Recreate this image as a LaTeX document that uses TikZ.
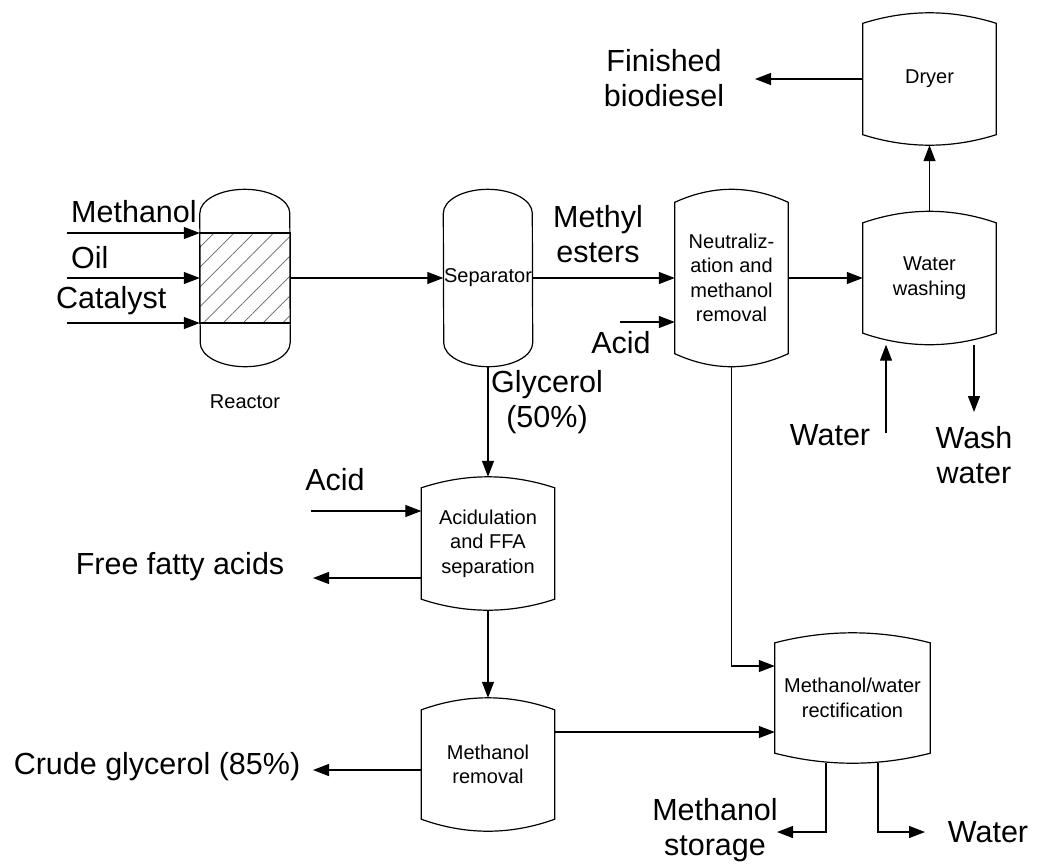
\documentclass[tikz,border=0pt]{standalone}
\usepackage{fontspec}
\setmainfont{Liberation Sans}
\usetikzlibrary{arrows.meta, calc, patterns.meta}

\tikzset{
  flow/.style={-{Triangle[length=16pt,width=12pt]}, line width=1.2pt},
  wall/.style={line width=1.2pt},
  vessel/.style={rectangle, inner sep=0pt, align=center, font=\fontsize{20}{24.5}\selectfont},
  tag/.style={inner sep=0pt, align=center, font=\fontsize{20}{24.5}\selectfont},
  biglabel/.style={inner sep=0pt, align=center, font=\fontsize{30.5}{35}\selectfont},
}

\begin{document}
\begin{tikzpicture}[x=1pt, y=1pt]
    \useasboundingbox (0,0) rectangle (1040,-863);

    % vessels
    \node[vessel, minimum width=90pt, minimum height=177pt] (reac) at (245,-278) {};
    \node[vessel, minimum width=89pt, minimum height=177pt] (sep) at (488,-278) {Separator};
    \node[vessel, minimum width=113pt, minimum height=177pt] (neut) at (731.5,-278) {Neutraliz-\\ation and\\methanol\\removal};
    \node[vessel, minimum width=133pt, minimum height=133pt] (wash) at (929.5,-278) {Water\\washing};
    \node[vessel, minimum width=133pt, minimum height=132pt] (dryer) at (929.5,-79) {Dryer};
    \node[vessel, minimum width=133pt, minimum height=133pt] (acid) at (488,-543.5) {Acidulation\\and FFA\\separation};
    \node[vessel, minimum width=133pt, minimum height=133pt] (mrem) at (488,-764.5) {Methanol\\removal};
    \node[vessel, minimum width=155pt, minimum height=130pt] (rect) at (852.5,-698) {Methanol/water\\rectification};

    % catalyst bed
    \draw[wall, pattern={Lines[angle=45, distance=14pt, line width=0.7pt]}, pattern color=black!60]
        ($(reac.west)+(0,45)$) rectangle ($(reac.east)+(0,-45)$);

    % outlines
    \foreach \n/\r in {reac/45, sep/44.5}
        \draw[wall] ($(\n.north west)+(0,-24)$) arc[start angle=180, end angle=0, x radius=\r, y radius=24]
            -- ($(\n.south east)+(0,24)$) arc[start angle=0, end angle=-180, x radius=\r, y radius=24] -- cycle;
    \foreach \n/\w/\s in {neut/113/13, wash/133/11.5, dryer/133/10.5, acid/133/11, mrem/133/12, rect/155/10}
        \draw[wall] ($(\n.north west)+(0,-\s)$) .. controls +(\w/3,4*\s/3) and +(-\w/3,4*\s/3) .. ($(\n.north east)+(0,-\s)$)
            -- ($(\n.south east)+(0,\s)$) .. controls +(-\w/3,-4*\s/3) and +(\w/3,-4*\s/3) .. ($(\n.south west)+(0,\s)$) -- cycle;

    % labels
    \node[biglabel, anchor=west] (lmeth) at (71,-212) {Methanol};
    \node[biglabel, anchor=west] (loil) at (71,-258) {Oil};
    \node[biglabel, anchor=west] (lcat) at (56,-301) {Catalyst};
    \node[tag] (lreac) at (245,-402) {Reactor};
    \node[biglabel] (lester) at (598,-234) {Methyl\\esters};
    \node[biglabel] (lacidn) at (621,-343) {Acid};
    \node[biglabel] (lfin) at (664,-78) {Finished\\biodiesel};
    \node[biglabel] (lgly) at (547,-402) {Glycerol\\(50\%)};
    \node[biglabel] (lacida) at (335,-480) {Acid};
    \node[biglabel] (lffa) at (180,-567) {Free fatty acids};
    \node[biglabel] (lcrude) at (157,-767) {Crude glycerol (85\%)};
    \node[biglabel] (lwatin) at (830,-435) {Water};
    \node[biglabel] (lwash) at (974,-455) {Wash\\water};
    \node[biglabel] (lmstor) at (715,-830) {Methanol\\storage};
    \node[biglabel] (lwatout) at (988,-832) {Water};

    % free ends
    \coordinate (inmeth) at (67,-233);
    \coordinate (inoil) at (67,-278);
    \coordinate (incat) at (67,-323);
    \coordinate (inacidn) at (620,-322);
    \coordinate (outfin) at (755,-79);
    \coordinate (inwat) at (886,-433);
    \coordinate (outwash) at (974,-412);
    \coordinate (inacida) at (311,-511);
    \coordinate (outffa) at (313,-578);
    \coordinate (outcrude) at (313,-770);
    \coordinate (outmeth) at (777,-832);
    \coordinate (outwat) at (925,-832);
    \coordinate (rin1) at ([yshift=32pt]rect.west);
    \coordinate (rin2) at ([yshift=-34pt]rect.west);

    % streams
    \draw[flow] (inmeth) -- (inmeth -| reac.west);
    \draw[flow] (inoil) -- (inoil -| reac.west);
    \draw[flow] (incat) -- (incat -| reac.west);
    \draw[flow] (reac.east) -- (sep.west);
    \draw[flow] (sep.east) -- (neut.west);
    \draw[flow] (inacidn) -- (inacidn -| neut.west);
    \draw[flow] (neut.east) -- (wash.west);
    \draw[flow] (wash.north) -- (dryer.south);
    \draw[flow] (dryer.west) -- (outfin);
    \draw[flow] (inwat) -- (inwat |- wash.south);
    \draw[flow] (outwash |- wash.south) -- (outwash);
    \draw[flow] (sep.south) -- (acid.north);
    \draw[flow] (inacida) -- (inacida -| acid.west);
    \draw[flow] (outffa -| acid.west) -- (outffa);
    \draw[flow] (acid.south) -- (mrem.north);
    \draw[flow] (outcrude -| mrem.west) -- (outcrude);
    \draw[flow] (neut.south) |- (rin1);
    \draw[flow] (rin2 -| mrem.east) -- (rin2);
    \draw[flow] ([xshift=-26.5pt]rect.south) |- (outmeth);
    \draw[flow] ([xshift=25.5pt]rect.south) |- (outwat);
\end{tikzpicture}
\end{document}
